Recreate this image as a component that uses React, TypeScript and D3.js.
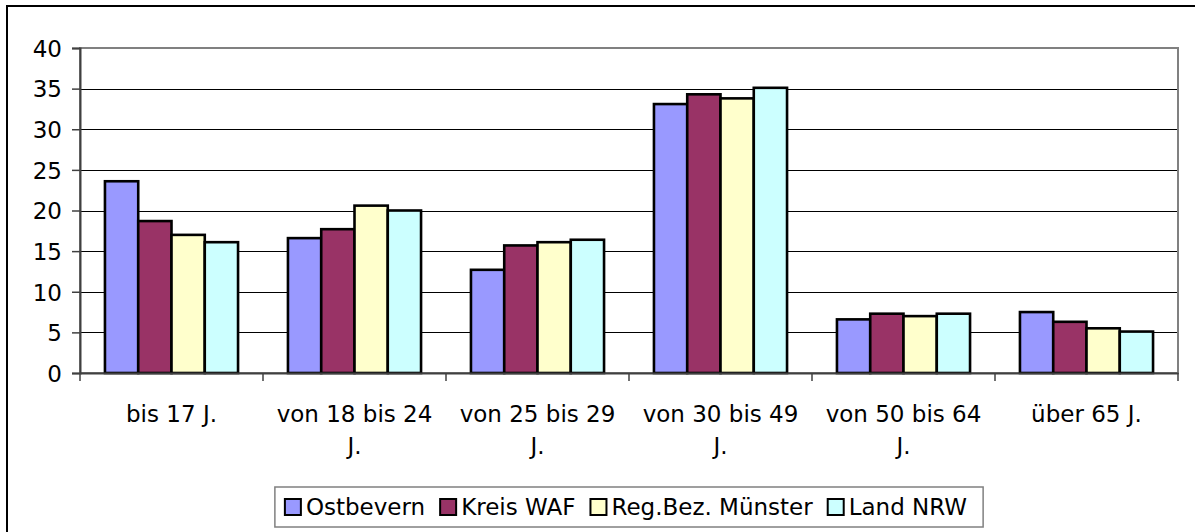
import { useRef, useEffect } from "react";
import * as d3 from "d3";

const categories = [
  "bis 17 J.",
  "von 18 bis 24 J.",
  "von 25 bis 29 J.",
  "von 30 bis 49 J.",
  "von 50 bis 64 J.",
  "über 65 J.",
];
const seriesNames = ["Ostbevern", "Kreis WAF", "Reg.Bez. Münster", "Land NRW"];
const seriesColors = ["#9999ff", "#993366", "#ffffcc", "#ccffff"];

const ostbevern = [23.6, 16.6, 12.7, 33.1, 6.6, 7.5];
const kreisWaf = [18.7, 17.7, 15.7, 34.3, 7.3, 6.3];
const regBezMuenster = [17.0, 20.6, 16.1, 33.8, 7.0, 5.5];
const landNrw = [16.1, 20.0, 16.4, 35.1, 7.3, 5.1];
const yTicks = [0, 5, 10, 15, 20, 25, 30, 35, 40];

const seriesValues = [ostbevern, kreisWaf, regBezMuenster, landNrw];
const FONT = "'DejaVu Sans', Verdana, sans-serif";
const FS = 23;

const App = () => {
  const ref = useRef<HTMLDivElement>(null);

  useEffect(() => {
    const W = 1195;
    const H = 532;
    const plot = { left: 80, right: 1178, top: 48, bottom: 373 };

    const svg = d3
      .select(ref.current)
      .html("")
      .append("svg")
      .attr("width", W)
      .attr("height", H)
      .style("display", "block")
      .style("font-family", FONT);

    svg.append("rect").attr("width", W).attr("height", H).attr("fill", "#fff");

    // outer chart border (cut off at right and bottom)
    svg
      .append("rect")
      .attr("x", 7)
      .attr("y", 6)
      .attr("width", W + 20)
      .attr("height", H + 20)
      .attr("fill", "none")
      .attr("stroke", "#000")
      .attr("stroke-width", 2);

    const x = d3
      .scaleBand()
      .domain(categories)
      .range([plot.left, plot.right])
      .padding(0);

    const xs = d3
      .scaleBand()
      .domain(seriesNames)
      .range([0, x.bandwidth()])
      .paddingInner(0)
      .paddingOuter(0.75);

    const y = d3.scaleLinear().domain([0, 40]).range([plot.bottom, plot.top]);

    // gridlines
    svg
      .append("g")
      .selectAll("line")
      .data(yTicks.filter((t) => t > 0 && t < 40))
      .enter()
      .append("line")
      .attr("x1", plot.left)
      .attr("x2", plot.right)
      .attr("y1", (d) => Math.round(y(d)) + 0.5)
      .attr("y2", (d) => Math.round(y(d)) + 0.5)
      .attr("stroke", "#000")
      .attr("stroke-width", 1.2);

    // plot area border
    svg
      .append("rect")
      .attr("x", plot.left)
      .attr("y", plot.top)
      .attr("width", plot.right - plot.left)
      .attr("height", plot.bottom - plot.top)
      .attr("fill", "none")
      .attr("stroke", "#808080")
      .attr("stroke-width", 2);

    // bars
    const groups = svg
      .append("g")
      .selectAll("g")
      .data(categories)
      .enter()
      .append("g")
      .attr("transform", (d) => `translate(${x(d)},0)`);

    groups
      .selectAll("rect")
      .data((_, i) => seriesNames.map((s, j) => ({ s, j, v: seriesValues[j][i] })))
      .enter()
      .append("rect")
      .attr("x", (d) => xs(d.s)!)
      .attr("y", (d) => y(d.v))
      .attr("width", xs.bandwidth())
      .attr("height", (d) => y(0) - y(d.v))
      .attr("fill", (d) => seriesColors[d.j])
      .attr("stroke", "#000")
      .attr("stroke-width", 2.6);

    // y axis
    const yAxis = svg
      .append("g")
      .attr("transform", `translate(${plot.left},0)`)
      .call(d3.axisLeft(y).tickValues(yTicks).tickSize(8).tickPadding(10));
    yAxis.select(".domain").attr("stroke", "#404040").attr("stroke-width", 2);
    yAxis.selectAll(".tick line").attr("stroke", "#404040").attr("stroke-width", 1.5);
    yAxis
      .selectAll(".tick text")
      .attr("font-family", FONT)
      .attr("font-size", FS)
      .attr("fill", "#000")
      .attr("dy", "0.36em");

    // x axis
    const xAxis = svg
      .append("g")
      .attr("transform", `translate(0,${plot.bottom})`)
      .call(d3.axisBottom(x).tickSize(0).tickFormat(() => ""));
    xAxis.select(".domain").attr("stroke", "#404040").attr("stroke-width", 2);
    xAxis.selectAll(".tick").remove();

    xAxis
      .selectAll("line.cat")
      .data(d3.range(categories.length + 1))
      .enter()
      .append("line")
      .attr("class", "cat")
      .attr("x1", (i) => plot.left + i * x.step())
      .attr("x2", (i) => plot.left + i * x.step())
      .attr("y1", 0)
      .attr("y2", 8)
      .attr("stroke", "#404040")
      .attr("stroke-width", 1.5);

    // category labels, wrapped
    const maxW = 168;
    categories.forEach((c) => {
      const cx = x(c)! + x.bandwidth() / 2;
      const t = svg
        .append("text")
        .attr("text-anchor", "middle")
        .attr("font-size", FS)
        .attr("fill", "#000");
      const words = c.split(" ");
      let line: string[] = [];
      let lineNo = 0;
      let tspan = t.append("tspan").attr("x", cx).attr("y", 422);
      words.forEach((w) => {
        line.push(w);
        tspan.text(line.join(" "));
        if ((tspan.node() as SVGTextContentElement).getComputedTextLength() > maxW && line.length > 1) {
          line.pop();
          tspan.text(line.join(" "));
          line = [w];
          lineNo += 1;
          tspan = t
            .append("tspan")
            .attr("x", cx)
            .attr("y", 422 + lineNo * 32)
            .text(w);
        }
      });
    });

    // legend
    const lg = svg.append("g");
    const sq = 16;
    const items: { w: number }[] = [];
    let cur = 0;
    const itemG = seriesNames.map((s, i) => {
      const g = lg.append("g");
      g.append("rect")
        .attr("x", 0)
        .attr("y", -sq / 2)
        .attr("width", sq)
        .attr("height", sq)
        .attr("fill", seriesColors[i])
        .attr("stroke", "#000")
        .attr("stroke-width", 2);
      const tx = g
        .append("text")
        .attr("x", sq + 5)
        .attr("y", 0)
        .attr("dy", "0.36em")
        .attr("font-size", FS)
        .attr("fill", "#000")
        .text(s);
      const tw = (tx.node() as SVGTextContentElement).getComputedTextLength();
      const w = sq + 5 + tw;
      items.push({ w });
      return g;
    });
    const gap = 15;
    const total = d3.sum(items, (d) => d.w) + gap * (items.length - 1);
    const padL = 10;
    const padR = 16;
    const boxW = total + padL + padR;
    const midX = (plot.left + plot.right) / 2;
    const boxX = midX - boxW / 2;
    const boxY = 487;
    const boxH = 40;
    lg.insert("rect", ":first-child")
      .attr("x", boxX)
      .attr("y", boxY)
      .attr("width", boxW)
      .attr("height", boxH)
      .attr("fill", "#fff")
      .attr("stroke", "#808080")
      .attr("stroke-width", 1.5);
    itemG.forEach((g, i) => {
      g.attr("transform", `translate(${boxX + padL + cur},${boxY + boxH / 2})`);
      cur += items[i].w + gap;
    });
  }, []);

  return <div ref={ref} style={{ position: "absolute", left: 0, top: 0 }} />;
};

export default App;
